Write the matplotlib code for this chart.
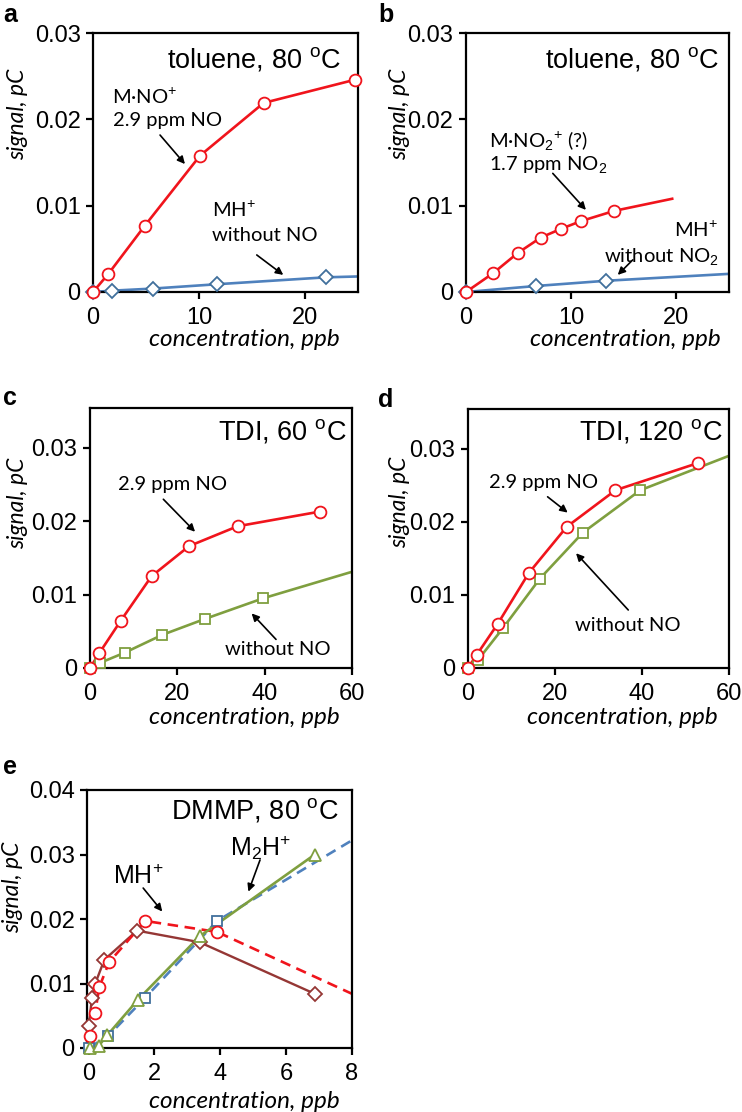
import matplotlib
matplotlib.use('Agg')
import matplotlib.pyplot as plt
from matplotlib.ticker import FixedLocator, FuncFormatter

plt.rcParams['font.family'] = ['Liberation Sans', 'DejaVu Sans']
plt.rcParams['mathtext.fontset'] = 'custom'
plt.rcParams['mathtext.rm'] = 'Liberation Sans'
plt.rcParams['mathtext.it'] = 'Liberation Sans:italic'

# ---- data ----
# a: toluene 80 C, NO
a_no_x = [0, 1.45, 4.9, 10.1, 16.1, 24.75]
a_no_y = [0, 0.0021, 0.0077, 0.0158, 0.0219, 0.0246]
a_mh_x = [0, 1.76, 5.7, 11.7, 21.95]
a_mh_y = [0, 0.00015, 0.0004, 0.0009, 0.0017]
a_mh_end = [25, 0.0018]

# b: toluene 80 C, NO2
b_no2_x = [0, 2.6, 4.9, 7.1, 9.0, 10.9, 14.1]
b_no2_y = [0, 0.0022, 0.0045, 0.0063, 0.0073, 0.0082, 0.0094]
b_no2_end = [19.6, 0.0108]
b_mh_x = [0, 6.7, 13.3]
b_mh_y = [0, 0.0007, 0.0013]
b_mh_end = [25, 0.0021]

# c: TDI 60 C
c_no_x = [0, 2.1, 7.0, 14.1, 22.7, 33.8, 52.7]
c_no_y = [0, 0.0020, 0.0064, 0.0125, 0.0166, 0.0193, 0.0213]
c_wo_x = [0, 2.3, 8.0, 16.5, 26.4, 39.7]
c_wo_y = [0, 0.0007, 0.0021, 0.0045, 0.0067, 0.0095]
c_wo_end = [60, 0.0131]

# d: TDI 120 C
d_no_x = [0, 2.0, 6.8, 14.0, 22.7, 33.9, 52.8]
d_no_y = [0, 0.0018, 0.0060, 0.0130, 0.0193, 0.0243, 0.0280]
d_wo_x = [0, 2.3, 8.1, 16.5, 26.4, 39.6]
d_wo_y = [0, 0.0011, 0.0055, 0.0122, 0.0185, 0.0243]
d_wo_end = [60, 0.0290]

# e: DMMP 80 C
e_c_x = [0.05, 0.2, 0.32, 0.62, 1.72, 3.9]
e_c_y = [0.0018, 0.0055, 0.0094, 0.0133, 0.0197, 0.0180]
e_c_end = [8, 0.0084]
e_d_x = [0, 0.1, 0.2, 0.48, 1.47, 3.37, 6.87]
e_d_y = [0.0034, 0.0077, 0.0100, 0.0137, 0.0182, 0.0164, 0.0084]
e_s_x = [0, 0.6, 1.72, 3.9]
e_s_y = [0, 0.0019, 0.0078, 0.0197]
e_s_end = [8, 0.0322]
e_t_x = [0.05, 0.3, 0.57, 1.5, 3.37, 6.87]
e_t_y = [0, 0.0003, 0.0020, 0.0075, 0.0173, 0.0300]

RED = '#f0141c'
BLUE = '#4f81bd'
BLUE_E = '#41709c'
GREEN = '#7f9f3f'
BROWN = '#953735'

ANN = ['Lato', 'DejaVu Sans']

W, H = 742, 1112
fig = plt.figure(figsize=(W / 100, H / 100), dpi=100)


def make_ax(l, r, t, b):
    return fig.add_axes([l / W, 1 - b / H, (r - l) / W, (b - t) / H])


def style(ax, xlim, ylim, xt, yt):
    ax.set_xlim(*xlim)
    ax.set_ylim(*ylim)
    ax.xaxis.set_major_locator(FixedLocator(xt))
    ax.yaxis.set_major_locator(FixedLocator(yt))
    ax.yaxis.set_major_formatter(FuncFormatter(lambda v, p: '0' if v == 0 else f'{v:g}'))
    for s in ax.spines.values():
        s.set_linewidth(1.6)
    ax.tick_params(direction='out', length=5, width=1.6, labelsize=17, pad=4)
    ax.tick_params(axis='x', pad=6)


def series(ax, x, y, color, marker, ms, mec, end=None, ls='-', lw=1.9):
    lx = list(x) + ([end[0]] if end else [])
    ly = list(y) + ([end[1]] if end else [])
    if ls == '--':
        ax.plot(lx, ly, color=color, lw=lw, dashes=(4, 2.5), zorder=2)
    else:
        ax.plot(lx, ly, color=color, lw=lw, zorder=2)
    ax.plot(x, y, ls='none', marker=marker, ms=ms, mfc='white', mec=mec, mew=1.3,
            clip_on=False, zorder=3)


def labels(xl, yl):
    # positions in picture pixels (centre of the text)
    fig.text(xl[0] / W, 1 - xl[1] / H, 'concentration, ppb', ha='center', va='center',
             fontstyle='italic', family=ANN, fontsize=17.5)
    fig.text(yl[0] / W, 1 - yl[1] / H, 'signal, pC', ha='center', va='center', rotation=90,
             fontstyle='italic', family=ANN, fontsize=16.5)


def arrow(ax, tail, head):
    ax.annotate('', xy=head, xytext=tail, xycoords='axes fraction', textcoords='axes fraction',
                arrowprops=dict(arrowstyle='-|>', color='black', lw=1.2, mutation_scale=11,
                                shrinkA=0, shrinkB=0))


def note(ax, x, y, s, ha='left', size=14.5):
    ax.text(x, y, s, transform=ax.transAxes, ha=ha, va='center', family=ANN, fontsize=size)


def title(ax, x, y, s):
    ax.text(x, y, s, transform=ax.transAxes, ha='right', va='center', fontsize=19.5)


def panel_letter(x, y, s):
    fig.text(x / W, 1 - y / H, s, ha='left', va='center', fontsize=18, fontweight='bold')


# ---- a ----
ax = make_ax(93, 358, 33, 292)
style(ax, (0, 25), (0, 0.03), [0, 10, 20], [0, 0.01, 0.02, 0.03])
series(ax, a_mh_x, a_mh_y, BLUE, 'D', 7, BLUE_E, end=a_mh_end)
series(ax, a_no_x, a_no_y, RED, 'o', 8.5, RED)
title(ax, 0.937, 0.896, r'toluene, 80 $^{\mathrm{o}}$C')
note(ax, 0.071, 0.753, r'M·NO$^{+}$')
note(ax, 0.075, 0.664, '2.9 ppm NO')
arrow(ax, (0.253, 0.606), (0.347, 0.494))
note(ax, 0.448, 0.317, r'MH$^{+}$')
note(ax, 0.448, 0.220, 'without NO')
arrow(ax, (0.618, 0.143), (0.718, 0.066))
labels((244, 339), (18, 114))
panel_letter(3, 15, 'a')

# ---- b ----
ax = make_ax(466, 729, 33, 292)
style(ax, (0, 25), (0, 0.03), [0, 10, 20], [0, 0.01, 0.02, 0.03])
series(ax, b_mh_x, b_mh_y, BLUE, 'D', 7, BLUE_E, end=b_mh_end)
series(ax, b_no2_x, b_no2_y, RED, 'o', 8.5, RED, end=b_no2_end)
title(ax, 0.962, 0.896, r'toluene, 80 $^{\mathrm{o}}$C')
note(ax, 0.089, 0.580, r'M·NO$_{2}$$^{+}$ (?)')
note(ax, 0.089, 0.490, r'1.7 ppm NO$_{2}$')
arrow(ax, (0.330, 0.458), (0.456, 0.317))
note(ax, 0.957, 0.239, r'MH$^{+}$', ha='right')
note(ax, 0.963, 0.135, r'without NO$_{2}$', ha='right')
arrow(ax, (0.634, 0.124), (0.577, 0.066))
labels((625, 339), (400, 114))
panel_letter(378, 15, 'b')

# ---- c ----
ax = make_ax(90, 352, 408, 668)
style(ax, (0, 60), (0, 0.0354), [0, 20, 40, 60], [0, 0.01, 0.02, 0.03])
series(ax, c_wo_x, c_wo_y, GREEN, 's', 7.5, GREEN, end=c_wo_end)
series(ax, c_no_x, c_no_y, RED, 'o', 8.5, RED)
title(ax, 0.980, 0.909, r'TDI, 60 $^{\mathrm{o}}$C')
note(ax, 0.107, 0.704, '2.9 ppm NO')
arrow(ax, (0.280, 0.649), (0.401, 0.524))
note(ax, 0.515, 0.073, 'without NO')
arrow(ax, (0.710, 0.110), (0.617, 0.210))
labels((244, 718), (17.5, 503))
panel_letter(3, 398, 'c')

# ---- d ----
ax = make_ax(468, 729, 409, 668)
style(ax, (0, 60), (0, 0.0354), [0, 20, 40, 60], [0, 0.01, 0.02, 0.03])
series(ax, d_wo_x, d_wo_y, GREEN, 's', 7.5, GREEN, end=d_wo_end)
series(ax, d_no_x, d_no_y, RED, 'o', 8.5, RED)
title(ax, 0.976, 0.912, r'TDI, 120 $^{\mathrm{o}}$C')
note(ax, 0.082, 0.715, '2.9 ppm NO')
arrow(ax, (0.305, 0.661), (0.382, 0.600))
note(ax, 0.410, 0.163, 'without NO')
arrow(ax, (0.614, 0.224), (0.414, 0.443))
labels((622, 718), (400, 502))
panel_letter(378, 400, 'd')

# ---- e ----
ax = make_ax(87, 352, 790, 1048)
style(ax, (-0.05, 8), (0, 0.04), [0, 2, 4, 6, 8], [0, 0.01, 0.02, 0.03, 0.04])
series(ax, e_s_x, e_s_y, BLUE, 's', 7.5, BLUE_E, end=e_s_end, ls='--')
series(ax, e_d_x, e_d_y, BROWN, 'D', 7, BROWN, lw=1.7)
series(ax, e_c_x, e_c_y, RED, 'o', 8.5, RED, end=e_c_end, ls='--')
series(ax, e_t_x, e_t_y, GREEN, '^', 8.5, GREEN)
title(ax, 0.948, 0.922, r'DMMP, 80 $^{\mathrm{o}}$C')
ax.text(0.098, 0.664, r'MH$^{+}$', transform=ax.transAxes, ha='left', va='center', fontsize=18)
arrow(ax, (0.212, 0.620), (0.284, 0.529))
ax.text(0.540, 0.775, r'M$_{2}$H$^{+}$', transform=ax.transAxes, ha='left', va='center', fontsize=18)
arrow(ax, (0.653, 0.729), (0.609, 0.606))
labels((244, 1101), (12.5, 887))
panel_letter(3, 767, 'e')

fig.savefig('out.png', dpi=100)
